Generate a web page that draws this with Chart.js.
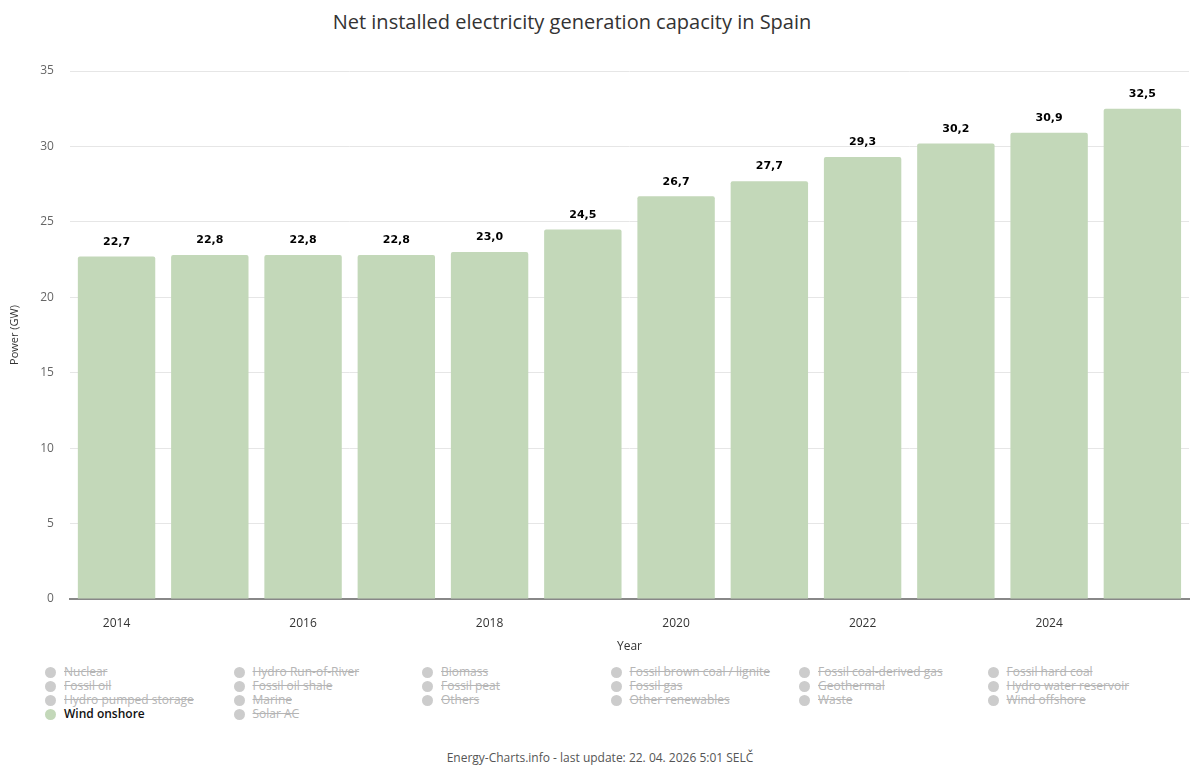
<!DOCTYPE html>
<html>
<head>
<meta charset="utf-8">
<script src="https://cdn.jsdelivr.net/npm/chart.js@4.4.1/dist/chart.umd.min.js"></script>
<style>
  body { margin: 0; background: #fff; font-family: "Open Sans", "Noto Sans", sans-serif; }
  #wrap { position: relative; width: 1200px; height: 782px; }
  #title { position: absolute; top: 8px; left: 0; width: 1144px; text-align: center; font-size: 20px; color: #333; }
  #box { position: absolute; top: 0; left: 0; width: 1200px; height: 659px; }
  #legend { position: absolute; top: 665px; left: 45px; width: 1150px; display: grid; grid-template-columns: repeat(6, 188.5px); row-gap: 0; font-size: 12px; line-height: 14px; }
  .item { display: flex; align-items: center; white-space: nowrap; }
  .dot { width: 11px; height: 11px; border-radius: 50%; margin-right: 8px; flex: none; }
  .off { color: #b5b5b5; text-decoration: line-through; }
  .on { color: #111; font-weight: 600; }
  #footer { position: absolute; top: 749px; left: 0; width: 1200px; text-align: center; font-size: 12px; color: #555; }
</style>
</head>
<body>
<div id="wrap">
  <div id="title">Net installed electricity generation capacity in Spain</div>
  <div id="box"><canvas id="mycanvas"></canvas></div>
  <div id="legend"></div>
  <div id="footer">Energy-Charts.info - last update: 22. 04. 2026 5:01 SELČ</div>
</div>
<script>
var years = ['2014', '2015', '2016', '2017', '2018', '2019', '2020', '2021', '2022', '2023', '2024', '2025'];
var windOnshore = [22.7, 22.8, 22.8, 22.8, 23.0, 24.5, 26.7, 27.7, 29.3, 30.2, 30.9, 32.5];
var seriesNames = [
	'Nuclear', 'Hydro Run-of-River', 'Biomass', 'Fossil brown coal / lignite', 'Fossil coal-derived gas', 'Fossil hard coal',
	'Fossil oil', 'Fossil oil shale', 'Fossil peat', 'Fossil gas', 'Geothermal', 'Hydro water reservoir',
	'Hydro pumped storage', 'Marine', 'Others', 'Other renewables', 'Waste', 'Wind offshore',
	'Wind onshore', 'Solar AC'
];
var yTicks = [0, 5, 10, 15, 20, 25, 30, 35];

var green = '#c3d8b9';

var datasets = [];
for (var i in seriesNames) {
	var name = seriesNames[i];
	var shown = name == 'Wind onshore';
	datasets.push({
		label: name,
		data: shown ? windOnshore : [],
		hidden: !shown,
		backgroundColor: shown ? green : '#cccccc',
		borderRadius: 2,
		borderSkipped: 'bottom',
		barPercentage: 0.83,
		categoryPercentage: 1.0
	});
}

// value labels above the bars
var barLabels = {
	id: 'barLabels',
	afterDatasetsDraw: function(chart) {
		var ctx = chart.ctx;
		ctx.save();
		ctx.font = 'bold 11px "DejaVu Sans", Verdana, sans-serif';
		ctx.fillStyle = '#000';
		ctx.textAlign = 'center';
		ctx.textBaseline = 'bottom';
		chart.data.datasets.forEach(function(ds, di) {
			if (!chart.isDatasetVisible(di)) return;
			chart.getDatasetMeta(di).data.forEach(function(bar, j) {
				ctx.fillText(ds.data[j].toFixed(1).replace('.', ','), bar.x, bar.y - 9);
			});
		});
		ctx.restore();
	}
};

var ctx = document.getElementById('mycanvas');
var chart = new Chart(ctx, {
	type: 'bar',
	data: { labels: years, datasets: datasets },
	options: {
		responsive: true,
		maintainAspectRatio: false,
		animation: false,
		layout: { padding: { top: 71, right: 11, left: 0, bottom: 2 } },
		plugins: {
			legend: { display: false },
			tooltip: { enabled: false }
		},
		scales: {
			x: {
				grid: { display: false },
				border: { color: '#888', width: 2 },
				ticks: {
					color: '#333',
					font: { size: 12, family: '"Open Sans", sans-serif', lineHeight: 1 },
					maxRotation: 0,
					autoSkip: false,
					padding: 11,
					callback: function(v, i) { return i % 2 == 0 ? years[i] : ''; }
				},
				title: { display: true, text: 'Year', color: '#333', font: { size: 12, family: '"Open Sans", sans-serif', lineHeight: 1 }, padding: { top: 0 } }
			},
			y: {
				min: 0,
				max: 35,
				afterBuildTicks: function(axis) { axis.ticks = yTicks.map(function(v) { return { value: v }; }); },
				grid: { color: '#e6e6e6', drawTicks: false },
				border: { display: false },
				ticks: { color: '#666', font: { size: 12, family: '"Open Sans", sans-serif' }, padding: 16 },
				title: { display: true, text: 'Power (GW)', color: '#333', font: { size: 11, family: '"Open Sans", sans-serif' }, padding: { top: 8, bottom: 3 } }
			}
		}
	},
	plugins: [barLabels]
});

// html legend in six columns
var legend = document.getElementById('legend');
chart.data.datasets.forEach(function(ds, di) {
	var on = chart.isDatasetVisible(di);
	var item = document.createElement('div');
	item.className = 'item';
	item.innerHTML = '<span class="dot" style="background:' + (on ? green : '#cccccc') + '"></span>' +
		'<span class="' + (on ? 'on' : 'off') + '">' + ds.label + '</span>';
	legend.appendChild(item);
});
</script>
</body>
</html>
